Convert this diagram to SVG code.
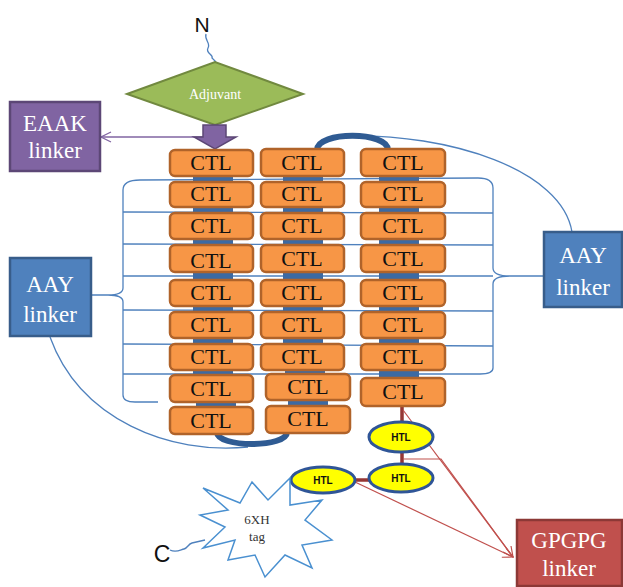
<svg xmlns="http://www.w3.org/2000/svg" width="623" height="587" viewBox="0 0 623 587">
<defs>
<style>
.thin{fill:none;stroke:#4F81BD;stroke-width:1.3}
.ctl{fill:#F79646;stroke:#B0632A;stroke-width:2.5}
.ctlt{font-family:"Liberation Serif",serif;font-size:22px;fill:#111;text-anchor:middle}
.lnk{fill:#3C6AA3}
.arc{fill:none;stroke:#2F5B93;stroke-width:6;stroke-linecap:round}
.box{font-family:"Liberation Serif",serif;font-size:23px;fill:#fff;text-anchor:middle}
.htl{fill:#FFFF00;stroke:#2F5597;stroke-width:3}
.htlt{font-family:"Liberation Sans",sans-serif;font-size:10px;font-weight:bold;fill:#111;text-anchor:middle}
.dred{stroke:#953735;stroke-width:3.5;fill:none}
.red{stroke:#C0504D;stroke-width:1.2;fill:none}
</style>
<marker id="ra" viewBox="0 0 12 12" refX="11" refY="6" markerWidth="12" markerHeight="12" markerUnits="userSpaceOnUse" orient="auto"><path d="M1,1 L11,6 L1,11" fill="none" stroke="#C0504D" stroke-width="1.2"/></marker>
<marker id="pa" viewBox="0 0 12 12" refX="11" refY="6" markerWidth="12" markerHeight="12" markerUnits="userSpaceOnUse" orient="auto"><path d="M1,1 L11,6 L1,11" fill="none" stroke="#8064A2" stroke-width="1.3"/></marker>
</defs>
<rect width="623" height="587" fill="#fff"/>

<g id="connectors">
<path class="thin" d="M123,190 Q123,180 140,180 L478,178 Q493,178 493,188 L493,268 Q493,276 510,276 L544,276 M510,276 Q493,276 493,284 L493,368 Q493,374 480,374"/>
<path class="thin" d="M123,190 L123,288 Q123,295 108,295 L92,295 M108,295 Q123,295 123,302 L123,395 Q123,402 135,402 L158,402"/>
<path class="thin" d="M123,212 L493,213 M123,244 L493,245 M123,276 L493,276 M123,310 L493,311 M123,344 L493,346 M123,374 L480,374"/>
<path class="thin" d="M345,136 C450,133 562,170 572,232"/>
<path class="thin" d="M50,337 C80,420 170,455 248,447"/>
<path class="thin" d="M206,34 C204,40 211,43 208,48 C205,53 214,55 212,58 L216,62"/>
<path class="thin" d="M170,550 C176,553 180,550 184,549 C188,548 188,544 192,543 L205,540"/>
<path d="M205,137 L101,137" fill="none" stroke="#8064A2" stroke-width="1.3" marker-end="url(#pa)"/>
<g class="lnk">
<rect x="193" y="176" width="40" height="6"/><rect x="193" y="207" width="40" height="6"/><rect x="193" y="239" width="40" height="6"/><rect x="193" y="272" width="40" height="8"/><rect x="193" y="306" width="40" height="6"/><rect x="193" y="338" width="40" height="6"/><rect x="193" y="370" width="40" height="5"/><rect x="196" y="402" width="40" height="5"/>
<rect x="283" y="176" width="40" height="6"/><rect x="283" y="207" width="40" height="6"/><rect x="283" y="239" width="40" height="6"/><rect x="283" y="272" width="40" height="8"/><rect x="283" y="306" width="40" height="6"/><rect x="283" y="338" width="40" height="6"/><rect x="285" y="369" width="40" height="5"/><rect x="288" y="400" width="40" height="6"/>
<rect x="379" y="176" width="40" height="6"/><rect x="379" y="207" width="40" height="6"/><rect x="379" y="239" width="40" height="6"/><rect x="379" y="272" width="40" height="8"/><rect x="379" y="306" width="40" height="6"/><rect x="379" y="338" width="40" height="6"/><rect x="379" y="369" width="40" height="9"/>
</g>
<path class="arc" d="M317,150 C317,131 388,131 388,150"/>
<path class="arc" d="M217,432 C217,448 287,448 287,432"/>
<path class="dred" d="M402,406 L402,422 M402,452 L402,465 M355,480 L369,480"/>
<path class="red" d="M403,410 L513,557" marker-end="url(#ra)"/>
<path class="red" d="M403,459 L441,459 L513,557"/>
<path class="red" d="M355,482 L513,557" marker-end="url(#ra)"/>
</g>

<g id="N"><text x="202" y="32" font-family="Liberation Sans,sans-serif" font-size="21" fill="#111" text-anchor="middle">N</text></g>
<g id="C"><text x="162" y="562" font-family="Liberation Sans,sans-serif" font-size="23" fill="#111" text-anchor="middle">C</text></g>

<g id="adjuvant">
<polygon points="127,94 215,62 303,94 215,125" fill="#9BBB59" stroke="#71893F" stroke-width="2"/>
<text x="215" y="99" font-family="Liberation Serif,serif" font-size="14" fill="#fff" text-anchor="middle">Adjuvant</text>
</g>
<g id="arrow-down">
<polygon points="203,125 226,125 226,137 236,137 215,149 194,137 203,137" fill="#8064A2" stroke="#5C4776" stroke-width="1.5"/>
</g>

<g id="eaak">
<rect x="10" y="102" width="90" height="69" fill="#8064A2" stroke="#5C4776" stroke-width="2.5"/>
<text class="box" x="55" y="131">EAAK</text><text class="box" x="55" y="158">linker</text>
</g>
<g id="aay-left">
<rect x="10" y="258" width="81" height="78" fill="#4F81BD" stroke="#385D8A" stroke-width="2.5"/>
<text class="box" x="50" y="292">AAY</text><text class="box" x="50" y="322">linker</text>
</g>
<g id="aay-right">
<rect x="544" y="232" width="78" height="75" fill="#4F81BD" stroke="#385D8A" stroke-width="2.5"/>
<text class="box" x="583" y="263">AAY</text><text class="box" x="583" y="295">linker</text>
</g>
<g id="gpgpg">
<rect x="517" y="520" width="105" height="66" fill="#C0504D" stroke="#8C3836" stroke-width="2.5"/>
<text class="box" x="569" y="548">GPGPG</text><text class="box" x="569" y="576">linker</text>
</g>

<g id="ctl-col1">
<rect class="ctl" x="170" y="150" width="83" height="26" rx="5"/><text class="ctlt" x="211" y="170">CTL</text>
<rect class="ctl" x="170" y="182" width="83" height="25" rx="5"/><text class="ctlt" x="211" y="201">CTL</text>
<rect class="ctl" x="170" y="213" width="83" height="26" rx="5"/><text class="ctlt" x="211" y="233">CTL</text>
<rect class="ctl" x="170" y="245" width="83" height="27" rx="5"/><text class="ctlt" x="211" y="268" font-size="27">CTL</text>
<rect class="ctl" x="170" y="280" width="83" height="26" rx="5"/><text class="ctlt" x="211" y="300">CTL</text>
<rect class="ctl" x="170" y="312" width="83" height="26" rx="5"/><text class="ctlt" x="211" y="332">CTL</text>
<rect class="ctl" x="170" y="344" width="83" height="26" rx="5"/><text class="ctlt" x="211" y="364">CTL</text>
<rect class="ctl" x="170" y="375" width="83" height="27" rx="5"/><text class="ctlt" x="211" y="396">CTL</text>
<rect class="ctl" x="170" y="407" width="83" height="27" rx="5"/><text class="ctlt" x="211" y="428">CTL</text>
</g>
<g id="ctl-col2">
<rect class="ctl" x="261" y="149" width="83" height="27" rx="5"/><text class="ctlt" x="302" y="170">CTL</text>
<rect class="ctl" x="261" y="182" width="83" height="25" rx="5"/><text class="ctlt" x="302" y="201">CTL</text>
<rect class="ctl" x="261" y="213" width="83" height="26" rx="5"/><text class="ctlt" x="302" y="233">CTL</text>
<rect class="ctl" x="261" y="245" width="83" height="27" rx="5"/><text class="ctlt" x="302" y="266">CTL</text>
<rect class="ctl" x="261" y="280" width="83" height="26" rx="5"/><text class="ctlt" x="302" y="300">CTL</text>
<rect class="ctl" x="261" y="312" width="83" height="26" rx="5"/><text class="ctlt" x="302" y="332">CTL</text>
<rect class="ctl" x="261" y="344" width="83" height="26" rx="5"/><text class="ctlt" x="302" y="364">CTL</text>
<rect class="ctl" x="266" y="374" width="84" height="26" rx="5"/><text class="ctlt" x="308" y="394">CTL</text>
<rect class="ctl" x="266" y="406" width="84" height="27" rx="5"/><text class="ctlt" x="308" y="426">CTL</text>
</g>
<g id="ctl-col3">
<rect class="ctl" x="361" y="149" width="84" height="27" rx="5"/><text class="ctlt" x="403" y="170">CTL</text>
<rect class="ctl" x="361" y="182" width="84" height="25" rx="5"/><text class="ctlt" x="403" y="201">CTL</text>
<rect class="ctl" x="361" y="213" width="84" height="26" rx="5"/><text class="ctlt" x="403" y="233">CTL</text>
<rect class="ctl" x="361" y="245" width="84" height="27" rx="5"/><text class="ctlt" x="403" y="266">CTL</text>
<rect class="ctl" x="361" y="280" width="84" height="26" rx="5"/><text class="ctlt" x="403" y="300">CTL</text>
<rect class="ctl" x="361" y="312" width="84" height="26" rx="5"/><text class="ctlt" x="403" y="332">CTL</text>
<rect class="ctl" x="361" y="344" width="84" height="26" rx="5"/><text class="ctlt" x="403" y="364">CTL</text>
<rect class="ctl" x="361" y="378" width="84" height="28" rx="5"/><text class="ctlt" x="403" y="399">CTL</text>
</g>

<g id="htl1"><ellipse class="htl" cx="401" cy="437" rx="32" ry="15"/><text class="htlt" x="401" y="441">HTL</text></g>
<g id="htl2"><ellipse class="htl" cx="401" cy="478" rx="32" ry="14"/><text class="htlt" x="401" y="482">HTL</text></g>
<g id="htl3"><ellipse class="htl" cx="323" cy="480" rx="32" ry="13"/><text class="htlt" x="323" y="484">HTL</text></g>

<g id="tag">
<polygon points="203,488 240,503 252,482 268,500 290,478 290,505 322,500 305,520 332,540 302,545 312,568 285,555 265,577 255,555 228,560 235,540 203,548 225,527 200,515 228,510" fill="#fff" stroke="#4A90D0" stroke-width="1.5"/>
<text x="257" y="524" font-family="Liberation Serif,serif" font-size="13" fill="#333" text-anchor="middle">6XH</text>
<text x="257" y="541" font-family="Liberation Serif,serif" font-size="13" fill="#333" text-anchor="middle">tag</text>
</g>
</svg>
